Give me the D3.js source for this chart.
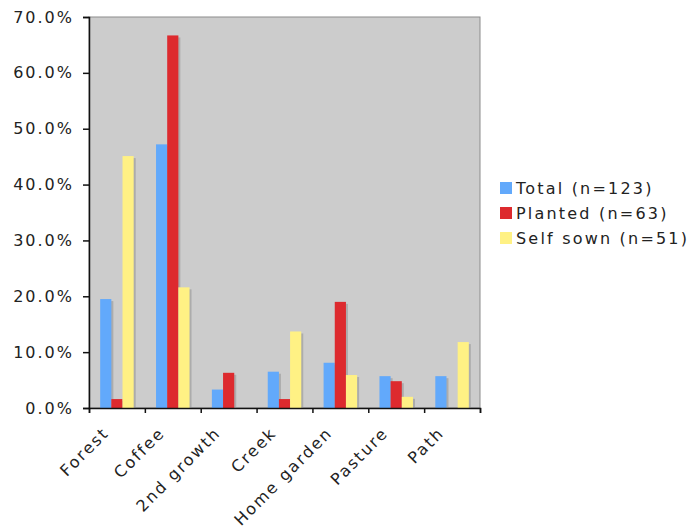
<!DOCTYPE html>
<html>
<head>
<meta charset="utf-8">
<script src="https://cdn.jsdelivr.net/npm/d3@7"></script>
<style>
  body { margin: 0; background: #fff; }
  text { font-family: "DejaVu Sans", Verdana, sans-serif; fill: #222; }
</style>
</head>
<body>
<div id="chart"></div>
<script>
// chart data
var categories = ["Forest", "Coffee", "2nd growth", "Creek", "Home garden", "Pasture", "Path"];
var seriesNames = ["Total (n=123)", "Planted (n=63)", "Self sown (n=51)"];
var totalVals = [19.5, 47.2, 3.3, 6.5, 8.1, 5.7, 5.7];
var plantedVals = [1.6, 66.7, 6.3, 1.6, 19.0, 4.8, 0];
var selfSownVals = [45.1, 21.6, 0, 13.7, 5.9, 2.0, 11.8];
var yTicks = [0, 10, 20, 30, 40, 50, 60, 70];

var colors = ["#62a9fb", "#dd2a2e", "#fff184"];

var svgWidth = 690;
var svgHeight = 531;
var margin = { top: 17, right: 210, bottom: 123, left: 89 };
var width = svgWidth - margin.left - margin.right;
var height = svgHeight - margin.top - margin.bottom;

var series = [totalVals, plantedVals, selfSownVals];
var rows = categories.map((c, i) => ({ cat: c, vals: series.map(s => s[i]) }));

var svg = d3.select("#chart")
  .append("svg")
  .attr("width", svgWidth)
  .attr("height", svgHeight);

var chartGroup = svg.append("g")
  .attr("transform", `translate(${margin.left}, ${margin.top})`);

// scales
var x0 = d3.scaleBand().domain(categories).range([0, width]).paddingInner(0).paddingOuter(0);
var x1 = d3.scaleBand().domain([0, 1, 2]).range([x0.bandwidth() * 0.2, x0.bandwidth() * 0.8]);
var y = d3.scaleLinear().domain([0, 70]).range([height, 0]);

// plot background
chartGroup.append("rect")
  .attr("width", width)
  .attr("height", height)
  .attr("fill", "#cccccc")
  .attr("stroke", "#8c8c8c")
  .attr("stroke-width", 1);

// bars with a little drop shadow
var groups = chartGroup.selectAll(".grp")
  .data(rows)
  .enter()
  .append("g")
  .attr("class", "grp")
  .attr("transform", d => `translate(${x0(d.cat)}, 0)`);

groups.selectAll(".shadow")
  .data(d => d.vals)
  .enter()
  .append("rect")
  .attr("class", "shadow")
  .attr("x", (d, i) => x1(i) + 2)
  .attr("y", d => y(d) + 2)
  .attr("width", x1.bandwidth())
  .attr("height", d => d > 0 ? Math.max(0, height - y(d) - 2) : 0)
  .attr("fill", "#acacac");

groups.selectAll(".bar")
  .data(d => d.vals)
  .enter()
  .append("rect")
  .attr("class", "bar")
  .attr("x", (d, i) => x1(i))
  .attr("y", d => y(d))
  .attr("width", x1.bandwidth())
  .attr("height", d => height - y(d))
  .attr("fill", (d, i) => colors[i]);

// y axis
var leftAxis = d3.axisLeft(y)
  .tickValues(yTicks)
  .tickSize(6)
  .tickPadding(9)
  .tickFormat(d => d.toFixed(1) + "%");

var yAxis = chartGroup.append("g").call(leftAxis);
yAxis.select(".domain").attr("stroke", "#111").attr("stroke-width", 1.5);
yAxis.selectAll(".tick line").attr("stroke", "#111").attr("stroke-width", 1.5);
yAxis.selectAll("text")
  .style("font-size", "16px")
  .style("letter-spacing", "2px")
  .attr("fill", "#1e1e28");

// x axis, ticks at the band boundaries
var bottomAxis = d3.axisBottom(d3.scaleLinear().domain([0, categories.length]).range([0, width]))
  .ticks(categories.length)
  .tickSize(5)
  .tickFormat("");

var xAxis = chartGroup.append("g")
  .attr("transform", `translate(0, ${height})`)
  .call(bottomAxis);
xAxis.select(".domain").attr("stroke", "#111").attr("stroke-width", 1.5);
xAxis.selectAll(".tick line").attr("stroke", "#111").attr("stroke-width", 1.5);

// rotated category labels
chartGroup.selectAll(".xlabel")
  .data(categories)
  .enter()
  .append("text")
  .attr("class", "xlabel")
  .attr("text-anchor", "end")
  .attr("transform", d => `translate(${x0(d) + x0.bandwidth() / 2 - 7}, ${height + 26}) rotate(-45)`)
  .style("font-size", "16px")
  .style("letter-spacing", "2px")
  .attr("fill", "#1e1e28")
  .text(d => d);

// legend
var legend = svg.append("g")
  .attr("transform", "translate(500, 182)");

var items = legend.selectAll(".item")
  .data(seriesNames)
  .enter()
  .append("g")
  .attr("transform", (d, i) => `translate(0, ${i * 25})`);

items.append("rect")
  .attr("width", 12)
  .attr("height", 12)
  .attr("fill", (d, i) => colors[i]);

items.append("text")
  .attr("x", 16)
  .attr("y", 12)
  .style("font-size", "16px")
  .style("letter-spacing", "2.2px")
  .attr("fill", "#1e1e28")
  .text(d => d);
</script>
</body>
</html>
